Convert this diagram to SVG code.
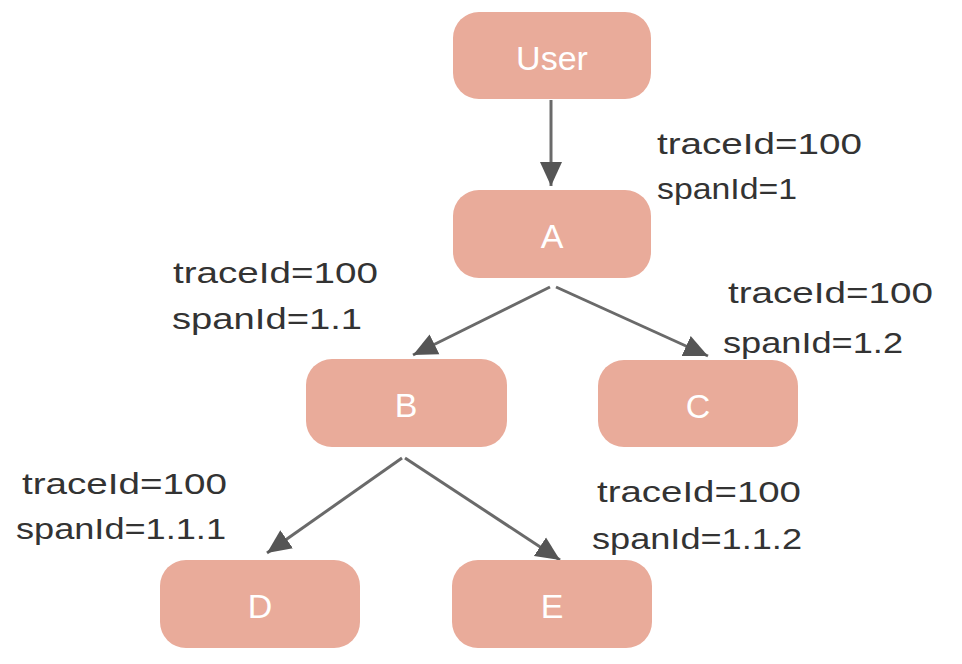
<svg xmlns="http://www.w3.org/2000/svg" width="962" height="664" viewBox="0 0 962 664">
<style>
.node rect{fill:#E9AB9A;}
.node text{fill:#ffffff;font-family:"Liberation Sans",Arial,sans-serif;font-size:34px;text-anchor:middle;dominant-baseline:central;}
.lbl{fill:#333333;font-family:"Liberation Sans",Arial,sans-serif;font-size:30px;}
.conn line{stroke:#6a6a6a;stroke-width:3;fill:none;marker-end:url(#arr);}
</style>
<defs>
<marker id="arr" viewBox="0 0 24 24" refX="24" refY="12" markerWidth="24" markerHeight="24" markerUnits="userSpaceOnUse" orient="auto">
<path d="M0,1 L24,12 L0,23 z" fill="#555555"/>
</marker>
</defs>
<rect width="962" height="664" fill="#ffffff"/>
<g id="connectors" class="conn">
<line x1="551" y1="100" x2="551" y2="186"/>
<line x1="550" y1="287" x2="413" y2="355"/>
<line x1="556" y1="287" x2="708" y2="356"/>
<line x1="402" y1="458" x2="267" y2="553"/>
<line x1="405" y1="458" x2="560" y2="560"/>
</g>
<g id="node-user" class="node"><rect x="453" y="12" width="198" height="87" rx="26"/><text x="552" y="58">User</text></g>
<g id="node-a" class="node"><rect x="453" y="190" width="198" height="88" rx="26"/><text x="552" y="236">A</text></g>
<g id="node-b" class="node"><rect x="306" y="359" width="201" height="88" rx="26"/><text x="406" y="405">B</text></g>
<g id="node-c" class="node"><rect x="598" y="360" width="200" height="87" rx="26"/><text x="698" y="406">C</text></g>
<g id="node-d" class="node"><rect x="160" y="560" width="200" height="88" rx="26"/><text x="260" y="606">D</text></g>
<g id="node-e" class="node"><rect x="452" y="560" width="200" height="88" rx="26"/><text x="552" y="606">E</text></g>
<g id="labels">
<text class="lbl" x="657" y="154" textLength="205" lengthAdjust="spacingAndGlyphs">traceId=100</text>
<text class="lbl" x="657" y="199" textLength="140" lengthAdjust="spacingAndGlyphs">spanId=1</text>
<text class="lbl" x="173" y="283" textLength="205" lengthAdjust="spacingAndGlyphs">traceId=100</text>
<text class="lbl" x="172" y="329" textLength="190" lengthAdjust="spacingAndGlyphs">spanId=1.1</text>
<text class="lbl" x="728" y="303" textLength="205" lengthAdjust="spacingAndGlyphs">traceId=100</text>
<text class="lbl" x="723" y="353" textLength="180" lengthAdjust="spacingAndGlyphs">spanId=1.2</text>
<text class="lbl" x="22" y="494" textLength="205" lengthAdjust="spacingAndGlyphs">traceId=100</text>
<text class="lbl" x="16" y="539" textLength="210" lengthAdjust="spacingAndGlyphs">spanId=1.1.1</text>
<text class="lbl" x="597" y="502" textLength="204" lengthAdjust="spacingAndGlyphs">traceId=100</text>
<text class="lbl" x="592" y="549" textLength="210" lengthAdjust="spacingAndGlyphs">spanId=1.1.2</text>
</g>
</svg>
